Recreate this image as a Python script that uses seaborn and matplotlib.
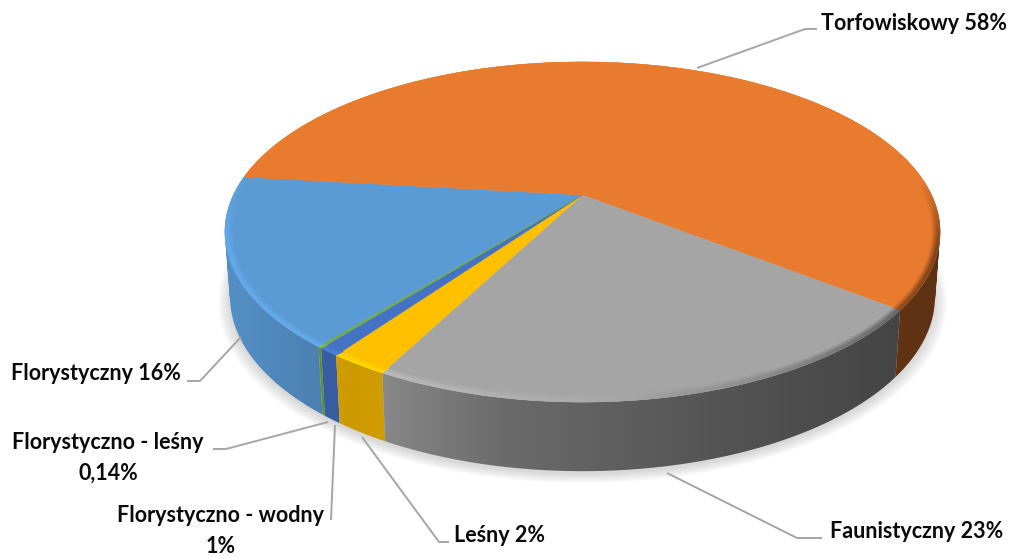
import numpy as np
import matplotlib
matplotlib.use('Agg')
import matplotlib.pyplot as plt
from matplotlib.collections import PolyCollection
from matplotlib.patches import PathPatch
from matplotlib.path import Path
import seaborn as sns

# Slices in sheet order, clockwise
categories = ['Florystyczny', 'Torfowiskowy', 'Faunistyczny', 'Leśny', 'Florystyczno - wodny', 'Florystyczno - leśny']
values = [16.0, 58.7, 22.1, 2.2, 0.8, 0.14]
slice_colors = ['#5B9BD5', '#E97B2F', '#A5A5A5', '#FFC000', '#4472C4', '#70AD47']

label_texts = ['Florystyczny 16%', 'Torfowiskowy 58%', 'Faunistyczny 23%', 'Leśny 2%',
               'Florystyczno - wodny\n1%', 'Florystyczno - leśny\n0,14%']
label_pos = [(11, 374, 'left'), (821, 23, 'left'), (830, 532, 'left'), (454, 535, 'left'),
             (221, 531, 'center'), (108, 458, 'center')]
leaders = [
    [(241, 337), (200, 381), (187, 381)],
    [(697, 68), (805, 29), (817, 29)],
    [(667, 473), (797, 538), (822, 538)],
    [(362, 437), (439, 542), (449, 542)],
    [(335, 425), (331, 520)],
    [(328, 422), (226, 449), (213, 449)],
]

sns.set_theme(style='white')
plt.rcParams['font.family'] = ['Lato', 'DejaVu Sans']
palette = np.array(sns.color_palette(slice_colors))

START = 218.9
CX, P = 582.5, -0.2176
TOP = (349, 195, 162)
BOTTOM = (344, 259, 166)
MID_Y = 232
BEVEL_PX = 8


def project(theta, r, disk):
    # unit disk to screen with a simple perspective
    b, y0, a = disk
    u = r * np.sin(np.radians(theta))
    v = -r * np.cos(np.radians(theta))
    w = 1 + P * v
    return CX + b * u / w, y0 + a * v / w


def inset(theta, px):
    # rim point moved px pixels towards the middle of the ellipse
    x, y = project(theta, 1, TOP)
    dx, dy = CX - x, MID_Y - y
    d = np.hypot(dx, dy)
    return x + dx / d * px, y + dy / d * px


def wall_shade(x):
    return np.interp(x, [225, 320, 350, 385, 500, 700, 890, 940],
                     [0.93, 0.83, 0.80, 0.82, 0.65, 0.52, 0.42, 0.40])


def rim_shade(x):
    return np.interp(x, [225, 400, 600, 800, 940], [1.1, 1.12, 1.03, 0.8, 0.55])


def wall_path(ts):
    # union of the wall's quads, all wound the same way
    parts = []
    for t0, t1 in zip(ts[:-1], ts[1:]):
        quad = np.array([project(t0, 1, TOP), project(t1, 1, TOP),
                         project(t1, 1, BOTTOM), project(t0, 1, BOTTOM)])
        x, y = quad[:, 0], quad[:, 1]
        if np.dot(x, np.roll(y, -1)) - np.dot(y, np.roll(x, -1)) < 0:
            quad = quad[::-1]
        parts.append(Path(np.vstack([quad, quad[0]]), closed=True))
    return Path.make_compound_path(*parts)


fig = plt.figure(figsize=(10.12, 5.58), dpi=100)
ax = fig.add_axes([0, 0, 1, 1])

# soft shadow
circle = np.linspace(0, 360, 241)
for grow in np.linspace(1.032, 1.0, 9):
    sx, sy = project(circle, grow, BOTTOM)
    ax.fill(sx, sy + 3, color='#808080', alpha=0.035, lw=0, zorder=1)

shares = np.array(values) / np.sum(values) * 360
edges = START + np.concatenate([[0], np.cumsum(shares)])

# side wall: horizontal gradient clipped to each slice, back to front
xgrid = np.arange(200, 960)
back_first = np.argsort([project((edges[i] + edges[i + 1]) / 2, 1, TOP)[1] for i in range(len(values))])
for rank, i in enumerate(back_first):
    ts = np.linspace(edges[i], edges[i + 1], max(2, int(shares[i] * 2)))
    outline = PathPatch(wall_path(ts), transform=ax.transData, fc='none', ec='none')
    ax.add_patch(outline)
    grad = palette[i][None, None, :] * wall_shade(xgrid)[None, :, None]
    im = ax.imshow(grad, extent=[200, 960, 500, 100], aspect='auto', zorder=2 + rank * 0.01,
                   interpolation='bilinear')
    im.set_clip_path(outline)

# top face
for i in range(len(values)):
    ts = np.linspace(edges[i], edges[i + 1], max(2, int(shares[i] * 2)))
    xs, ys = project(ts, 1, TOP)
    ax.fill(np.r_[CX, xs], np.r_[TOP[1], ys], color=palette[i], lw=0.3, zorder=3)

# bevel along the rim of the top face, fixed width on screen
bevel_quads, bevel_cols = [], []
rings = np.linspace(BEVEL_PX, 0, 9)
for i in range(len(values)):
    n = max(2, int(shares[i] / 0.75))
    ts = np.linspace(edges[i], edges[i + 1], n + 1)
    for t0, t1 in zip(ts[:-1], ts[1:]):
        for k, (p0, p1) in enumerate(zip(rings[:-1], rings[1:])):
            x0, y0 = inset(t0, p0)
            x1, y1 = inset(t1, p0)
            x2, y2 = inset(t1, p1)
            x3, y3 = inset(t0, p1)
            fade = np.clip((-np.cos(np.radians(t0)) + 0.1) / 0.4, 0, 1)
            amount = min(1, (k + 1) / 6) * fade
            col = palette[i] * (1 + (rim_shade((x0 + x1) / 2) - 1) * amount)
            bevel_quads.append([(x0, y0), (x1, y1), (x2, y2), (x3, y3)])
            bevel_cols.append(np.clip(col, 0, 1))
ax.add_collection(PolyCollection(bevel_quads, facecolors=bevel_cols, edgecolors=bevel_cols,
                                 linewidths=0.3, zorder=4))

# leader lines and labels
for pts in leaders:
    ax.plot(*zip(*pts), color='#A6A6A6', lw=1.4, zorder=5, solid_capstyle='butt')
for text, (x, y, ha) in zip(label_texts, label_pos):
    ax.text(x, y, text, ha=ha, va='center', fontsize=15.5, fontweight='bold',
            color='#0A0A0A', linespacing=1.55, zorder=6)

ax.set_xlim(0, 1012)
ax.set_ylim(558, 0)
ax.axis('off')
fig.savefig('out.png', dpi=100)
